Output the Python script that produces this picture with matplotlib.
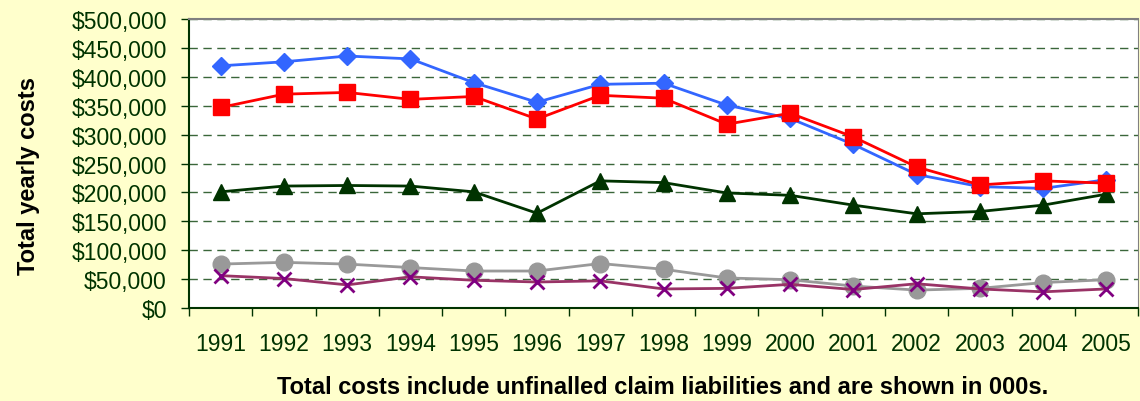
import matplotlib
matplotlib.use("Agg")
import matplotlib.pyplot as plt
from matplotlib.ticker import FuncFormatter, MultipleLocator

years = [str(y) for y in range(1991, 2006)]
blue = [419, 426, 436, 431, 390, 356, 387, 389, 351, 328, 283, 231, 210, 207, 222]
red = [347, 370, 373, 361, 366, 327, 368, 363, 318, 337, 296, 244, 213, 220, 216]
green = [201, 211, 212, 211, 201, 164, 220, 217, 199, 195, 178, 163, 167, 178, 197]
grey = [76, 79, 76, 70, 64, 64, 77, 67, 52, 49, 38, 31, 34, 44, 49]
purple = [56, 51, 40, 54, 48, 45, 47, 33, 34, 41, 32, 42, 33, 28, 33]

plt.rcParams['font.family'] = ['Liberation Sans', 'DejaVu Sans']
txt = '#003300'

fig = plt.figure(figsize=(11.4, 4.02), dpi=100)
fig.patch.set_facecolor('#FFFFCC')
ax = fig.add_axes([0.1658, 0.2313, 0.8325, 0.7189])
ax.set_facecolor('white')

x = list(range(len(years)))
k = 1000
ax.plot(x, [v * k for v in blue], color='#3366FF', lw=2, marker='D', ms=9, zorder=5)
ax.plot(x, [v * k for v in red], color='#FF0000', lw=2, marker='s', ms=11, zorder=5)
ax.plot(x, [v * k for v in green], color='#003300', lw=2, marker='^', ms=11, zorder=4)
ax.plot(x, [v * k for v in grey], color='#999999', lw=2, marker='o', ms=12, zorder=3)
ax.plot(x, [v * k for v in purple], color='#993366', lw=2, marker='x', ms=10,
        mec='#800080', mew=2, zorder=4)

ax.set_xlim(-0.5, 14.5)
ax.set_ylim(0, 500000)
ax.yaxis.set_major_locator(MultipleLocator(50000))
ax.yaxis.set_major_formatter(FuncFormatter(lambda v, p: '${:,.0f}'.format(v)))
ax.grid(axis='y', color='#3a663a', ls=(0, (6, 4)), lw=1)
ax.set_axisbelow(True)

ax.set_xticks(x)
ax.set_xticklabels(years)
ax.set_xticks([i - 0.5 for i in range(len(years) + 1)], minor=True)
ax.tick_params(axis='x', which='major', length=0, pad=17, labelsize=16.5, labelcolor=txt)
ax.tick_params(axis='x', which='minor', length=6, color=txt, width=1)
ax.tick_params(axis='y', length=6, color=txt, width=1, pad=10, labelsize=16.5, labelcolor=txt)

ax.spines['left'].set_color(txt)
ax.spines['bottom'].set_color(txt)
ax.spines['left'].set_linewidth(1.5)
ax.spines['bottom'].set_linewidth(1.5)
ax.spines['top'].set_color('#808080')
ax.spines['right'].set_color('#808080')
ax.spines['top'].set_linewidth(1.5)

fig.text(0.025, 0.563, 'Total yearly costs', rotation=90, ha='center', va='center',
         fontsize=17, fontweight='bold', color='black')
fig.text(0.581, 0.035, 'Total costs include unfinalled claim liabilities and are shown in 000s.',
         ha='center', va='center', fontsize=17, fontweight='bold', color='black')

fig.savefig('out.png', dpi=100, facecolor=fig.get_facecolor())
